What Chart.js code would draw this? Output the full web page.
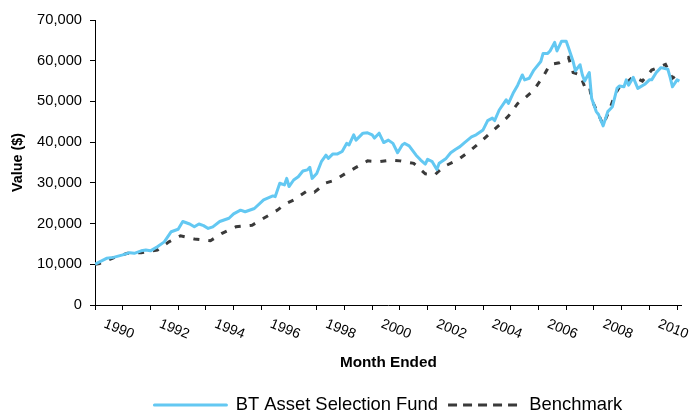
<!DOCTYPE html>
<html>
<head>
<meta charset="utf-8">
<script src="https://cdn.jsdelivr.net/npm/chart.js@4.4.0/dist/chart.umd.min.js"></script>
<style>
  html, body { margin: 0; padding: 0; background: #ffffff; }
  canvas { display: block; }
</style>
</head>
<body>
<canvas id="c" width="689" height="410"></canvas>
<script>
// ---- Data (months since Nov 1990, value in $) ----
const seriesNames = ['BT Asset Selection Fund', 'Benchmark'];

const fundMonths = [0,5,8,12,15,17,20,22,24,27,30,33,36,38,41,43,45,47,49,51,54,58,60,63,65,69,73,77,78,80,82,83,84,86,88,90,92,93,94,96,98,100,101,103,105,107,109,110,112,113,116,118,120,121,123,125,127,129,131,133,134,136,139,141,143,144,146,148,149,152,154,156,158,160,163,165,168,170,172,173,175,178,179,181,183,185,186,188,190,193,194,196,197,199,200,202,204,205,207,208,209,210,211,212,214,215,217,218,220,222,224,226,227,229,230,231,233,235,238,240,241,243,245,248,249,250,252,253];
const fundValues = [10000,11470,11700,12300,12850,12700,13300,13500,13300,14300,15500,18000,18600,20500,19900,19200,19900,19500,18800,19200,20500,21300,22400,23300,22900,23700,25800,26800,26600,29900,29500,31100,29100,30700,31500,32900,33200,33800,31100,32300,35200,36800,36000,37100,37100,37700,39700,39300,41800,40500,42200,42300,41800,41000,42200,39900,40500,39700,37400,39300,39700,39100,36800,35600,34600,35800,35200,33300,34800,36000,37400,38200,38900,39900,41300,41800,43000,45300,45900,45300,47900,50400,49500,52000,54000,56500,55300,55700,57700,59800,61800,61800,62400,64500,62400,64800,64800,63200,59800,57500,58300,59000,56500,55000,57100,50800,47500,46800,44000,47500,48700,53200,53800,53600,55300,54000,55900,53200,54200,55300,55300,57100,58300,57900,55900,53600,55300,55000];

const benchMonths = [0,2,8,14,20,27,32,37,43,50,55,61,68,73,79,82,86,92,95,100,104,109,113,118,123,128,132,138,143,147,151,157,162,167,172,175,179,183,186,190,194,197,201,205,207,210,212,214,215,218,220,223,225,227,230,233,237,241,247,250,253];
const benchValues = [10000,10200,11600,12700,12850,13500,15500,17000,16200,15800,17600,19200,19600,21300,23300,24700,25800,28100,27700,30000,30700,32500,33800,35400,35200,35600,35400,34800,32200,31900,34000,35600,37700,40100,42700,44200,46400,49500,50800,52800,56100,59100,59500,60800,57100,56500,53600,54000,50400,46800,44200,48300,51600,53500,54500,56100,55000,57700,59100,55700,56900];

// yearly ticks (every 12 months), labels on every other tick
const tickYears = ['1990','','1992','','1994','','1996','','1998','','2000','','2002','','2004','','2006','','2008','','2010',''];
const yTickValues = [0,10000,20000,30000,40000,50000,60000,70000];

const FAMILY = '"Liberation Sans", Arial, Helvetica, sans-serif';

function pairs(xs, ys) { return xs.map((x, i) => ({ x: x, y: ys[i] })); }

const xYearLabels = {
  id: 'xYearLabels',
  afterDraw(chart) {
    const sx = chart.scales.x;
    const ctx = chart.ctx;
    ctx.save();
    ctx.font = '14px ' + FAMILY;
    ctx.fillStyle = '#000';
    ctx.textAlign = 'left';
    ctx.textBaseline = 'alphabetic';
    tickYears.forEach((label, i) => {
      if (!label) return;
      const px = sx.getPixelForValue(i * 12);
      ctx.save();
      ctx.translate(px + 8, sx.top + 22);
      ctx.rotate(22 * Math.PI / 180);
      ctx.fillText(label, 0, 0);
      ctx.restore();
    });
    ctx.restore();
  }
};

const legendPlace = {
  id: 'legendPlace',
  beforeDraw(chart) {
    const lg = chart.legend;
    if (!lg) return;
    const h = lg.height;
    const fs = lg.options.labels.font.size;
    lg.left = chart.chartArea.left;
    lg.right = chart.chartArea.right;
    lg.top = 405 - fs / 2 - lg.options.labels.padding;
    lg.bottom = lg.top + h;
  }
};

new Chart(document.getElementById('c'), {
  type: 'line',
  data: {
    datasets: [
      {
        label: seriesNames[0],
        data: pairs(fundMonths, fundValues),
        borderColor: '#63C8F2',
        backgroundColor: '#63C8F2',
        borderWidth: 3,
        pointRadius: 0,
        tension: 0,
        borderJoinStyle: 'round'
      },
      {
        label: seriesNames[1],
        data: pairs(benchMonths, benchValues),
        borderColor: '#3a3a3a',
        backgroundColor: '#3a3a3a',
        borderWidth: 3,
        borderDash: [6, 9],
        pointRadius: 0,
        tension: 0
      }
    ]
  },
  options: {
    responsive: false,
    animation: false,
    devicePixelRatio: 1,
    layout: { padding: { left: 0, right: 7.3, top: 20, bottom: 0 } },
    plugins: {
      tooltip: { enabled: false },
      legend: {
        position: 'bottom',
        labels: {
          boxWidth: 72,
          boxHeight: 0,
          padding: 10,
          color: '#000',
          font: { size: 18.4, family: FAMILY }
        }
      }
    },
    scales: {
      x: {
        type: 'linear',
        min: 0,
        max: 254,
        afterFit(s) {
          const lh = s.chart.legend ? s.chart.legend.height : 38.4;
          s.height = s.chart.height - 305 - lh;
        },
        ticks: { display: false, stepSize: 12, includeBounds: false },
        grid: { drawOnChartArea: false, drawTicks: true, tickLength: 5, color: '#000', tickColor: '#000', lineWidth: 1 },
        border: { display: true, color: '#000', width: 1 },
        title: {
          display: true,
          text: 'Month Ended',
          color: '#000',
          font: { size: 15.3, weight: 'bold', family: FAMILY },
          padding: { top: 0, bottom: 0 }
        }
      },
      y: {
        min: 0,
        max: 70000,
        afterFit(s) { s.width = 95; },
        afterBuildTicks(s) { s.ticks = yTickValues.map(v => ({ value: v })); },
        ticks: {
          padding: 8,
          color: '#000',
          font: { size: 14.7, family: FAMILY },
          callback: v => Number(v).toLocaleString('en-US')
        },
        grid: { drawOnChartArea: false, drawTicks: true, tickLength: 5, color: '#000', tickColor: '#000', lineWidth: 1 },
        border: { display: true, color: '#000', width: 1 },
        title: {
          display: true,
          text: 'Value ($)',
          color: '#000',
          font: { size: 14.4, weight: 'bold', family: FAMILY },
          padding: { top: 9.4, bottom: 0 }
        }
      }
    }
  },
  plugins: [xYearLabels, legendPlace]
});
</script>
</body>
</html>
